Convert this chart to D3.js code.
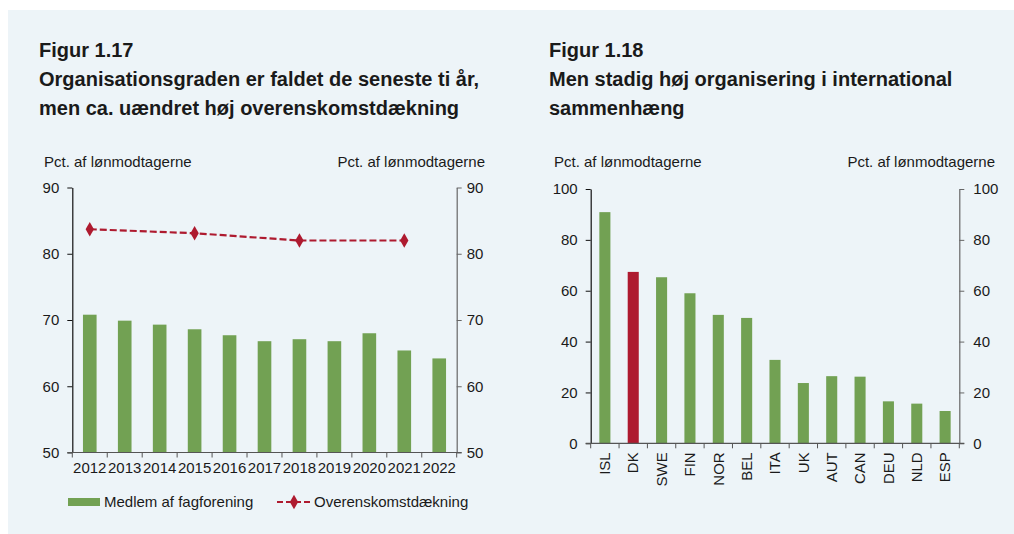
<!DOCTYPE html>
<html><head><meta charset="utf-8">
<script src="https://cdn.jsdelivr.net/npm/d3@7/dist/d3.min.js"></script>
<style>
body{margin:0;background:#fff;}
svg{display:block;font-family:"Liberation Sans",Arial,sans-serif;}
</style></head>
<body><svg id="c" width="1014" height="534"></svg>
<script>
// ---- Data ----
const years = ["2012","2013","2014","2015","2016","2017","2018","2019","2020","2021","2022"];
const members = [70.8,69.9,69.3,68.6,67.7,66.8,67.1,66.8,68.0,65.4,64.2];
const coverageYears = ["2012","2015","2018","2021"];
const coverage = [83.7,83.1,82.0,82.0];
const leftTicks = [50,60,70,80,90];

const countries = ["ISL","DK","SWE","FIN","NOR","BEL","ITA","UK","AUT","CAN","DEU","NLD","ESP"];
const union = [90.9,67.4,65.3,59.0,50.5,49.3,32.8,23.7,26.4,26.2,16.5,15.6,12.7];
const rightTicks = [0,20,40,60,80,100];

const GREEN = "#72a153", RED = "#ae1a2f", TXT = "#1a1a1a";
const svg = d3.select("#c");
svg.append("rect").attr("x",8).attr("y",10).attr("width",1006).attr("height",524).attr("fill","#edf4f8");

function title(x, lines){
  const t = svg.append("text").attr("x",x).attr("y",57).attr("font-size",20).attr("font-weight","bold").attr("fill",TXT);
  lines.forEach((l,i)=>t.append("tspan").attr("x",x).attr("y",57+29*i).text(l));
}
title(39,["Figur 1.17","Organisationsgraden er faldet de seneste ti år,","men ca. uændret høj overenskomstdækning"]);
title(549,["Figur 1.18","Men stadig høj organisering i international","sammenhæng"]);

function label(x, anchor, txt){
  svg.append("text").attr("x",x).attr("y",167).attr("font-size",15).attr("text-anchor",anchor).attr("fill",TXT).text(txt);
}
label(44,"start","Pct. af lønmodtagerne");
label(485,"end","Pct. af lønmodtagerne");
label(554,"start","Pct. af lønmodtagerne");
label(995,"end","Pct. af lønmodtagerne");

function styleAxis(g, color){
  g.selectAll("path").attr("stroke",color).attr("stroke-width",1.2);
  g.selectAll("line").attr("stroke",color);
  g.selectAll("text").attr("font-size",15).attr("fill",TXT).attr("font-family","Liberation Sans, Arial, sans-serif");
}

// ---- Left chart ----
{
  const x0=72.3, x1=456.7, yTop=187.5, yBot=452.5;
  const x = d3.scaleBand().domain(years).range([x0,x1]).padding(0);
  const y = d3.scaleLinear().domain([50,90]).range([yBot,yTop]);
  const bw = x.bandwidth()*0.39;
  svg.append("g").selectAll("rect").data(years).join("rect")
    .attr("x",d=>x(d)+x.bandwidth()/2-bw/2).attr("width",bw)
    .attr("y",(d,i)=>y(members[i])).attr("height",(d,i)=>yBot-y(members[i]))
    .attr("fill",GREEN);
  const gl = svg.append("g").attr("transform",`translate(${x0},0)`).call(d3.axisLeft(y).tickValues(leftTicks).tickSize(5).tickPadding(8).tickSizeOuter(0));
  styleAxis(gl,"#111");
  const gr = svg.append("g").attr("transform",`translate(${x1},0)`).call(d3.axisRight(y).tickValues(leftTicks).tickSize(5).tickPadding(5).tickSizeOuter(0));
  styleAxis(gr,"#666");
  const gb = svg.append("g").attr("transform",`translate(0,${yBot})`).call(d3.axisBottom(x).tickSize(0).tickPadding(10));
  styleAxis(gb,"#555");
  gb.select("path").attr("d",`M${x0-5},0H${x1+5}`);
  const bounds = years.map(d=>x(d)).concat([x1]);
  gb.selectAll("line.b").data(bounds).join("line").attr("class","b")
    .attr("x1",d=>d).attr("x2",d=>d).attr("y1",0).attr("y2",5).attr("stroke","#555");
  const cx = d=>x(d)+x.bandwidth()/2;
  const line = d3.line().x((d,i)=>cx(coverageYears[i])).y(d=>y(d));
  svg.append("path").attr("d",line(coverage)).attr("fill","none").attr("stroke",RED).attr("stroke-width",2.2).attr("stroke-dasharray","7,3");
  const diamond = d3.symbol().type(d3.symbolDiamond).size(60);
  svg.append("g").selectAll("path").data(coverage).join("path")
    .attr("d",diamond).attr("transform",(d,i)=>`translate(${cx(coverageYears[i])},${y(d)})`).attr("fill",RED);
  // legend
  svg.append("rect").attr("x",68).attr("y",498).attr("width",32).attr("height",8).attr("fill",GREEN);
  svg.append("text").attr("x",104).attr("y",507).attr("font-size",15).attr("fill",TXT).text("Medlem af fagforening");
  svg.append("line").attr("x1",277).attr("x2",311).attr("y1",502).attr("y2",502).attr("stroke",RED).attr("stroke-width",2.2).attr("stroke-dasharray","6,3");
  svg.append("path").attr("d",diamond).attr("transform","translate(294,502)").attr("fill",RED);
  svg.append("text").attr("x",314).attr("y",507).attr("font-size",15).attr("fill",TXT).text("Overenskomstdækning");
}

// ---- Right chart ----
{
  const x0=590.7, x1=959.3, yTop=189, yBot=443.3;
  const x = d3.scaleBand().domain(countries).range([x0,x1]).padding(0);
  const y = d3.scaleLinear().domain([0,100]).range([yBot,yTop]);
  const bw = x.bandwidth()*0.39;
  svg.append("g").selectAll("rect").data(countries).join("rect")
    .attr("x",d=>x(d)+x.bandwidth()/2-bw/2).attr("width",bw)
    .attr("y",(d,i)=>y(union[i])).attr("height",(d,i)=>yBot-y(union[i]))
    .attr("fill",d=>d==="DK"?RED:GREEN);
  const gl = svg.append("g").attr("transform",`translate(${x0},0)`).call(d3.axisLeft(y).tickValues(rightTicks).tickSize(5).tickPadding(8).tickSizeOuter(0));
  styleAxis(gl,"#111");
  const gr = svg.append("g").attr("transform",`translate(${x1},0)`).call(d3.axisRight(y).tickValues(rightTicks).tickSize(5).tickPadding(9).tickSizeOuter(0));
  styleAxis(gr,"#666");
  const gb = svg.append("g").attr("transform",`translate(0,${yBot})`).call(d3.axisBottom(x).tickSize(0).tickPadding(0));
  styleAxis(gb,"#555");
  gb.select("path").attr("d",`M${x0-5},0H${x1+5}`);
  gb.selectAll(".tick text").attr("transform","rotate(-90)").attr("text-anchor","end")
    .attr("x",-9).attr("y",0).attr("dy","0.35em");
  const bounds = countries.map(d=>x(d)).concat([x1]);
  gb.selectAll("line.b").data(bounds).join("line").attr("class","b")
    .attr("x1",d=>d).attr("x2",d=>d).attr("y1",0).attr("y2",5).attr("stroke","#555");
}
</script></body></html>
